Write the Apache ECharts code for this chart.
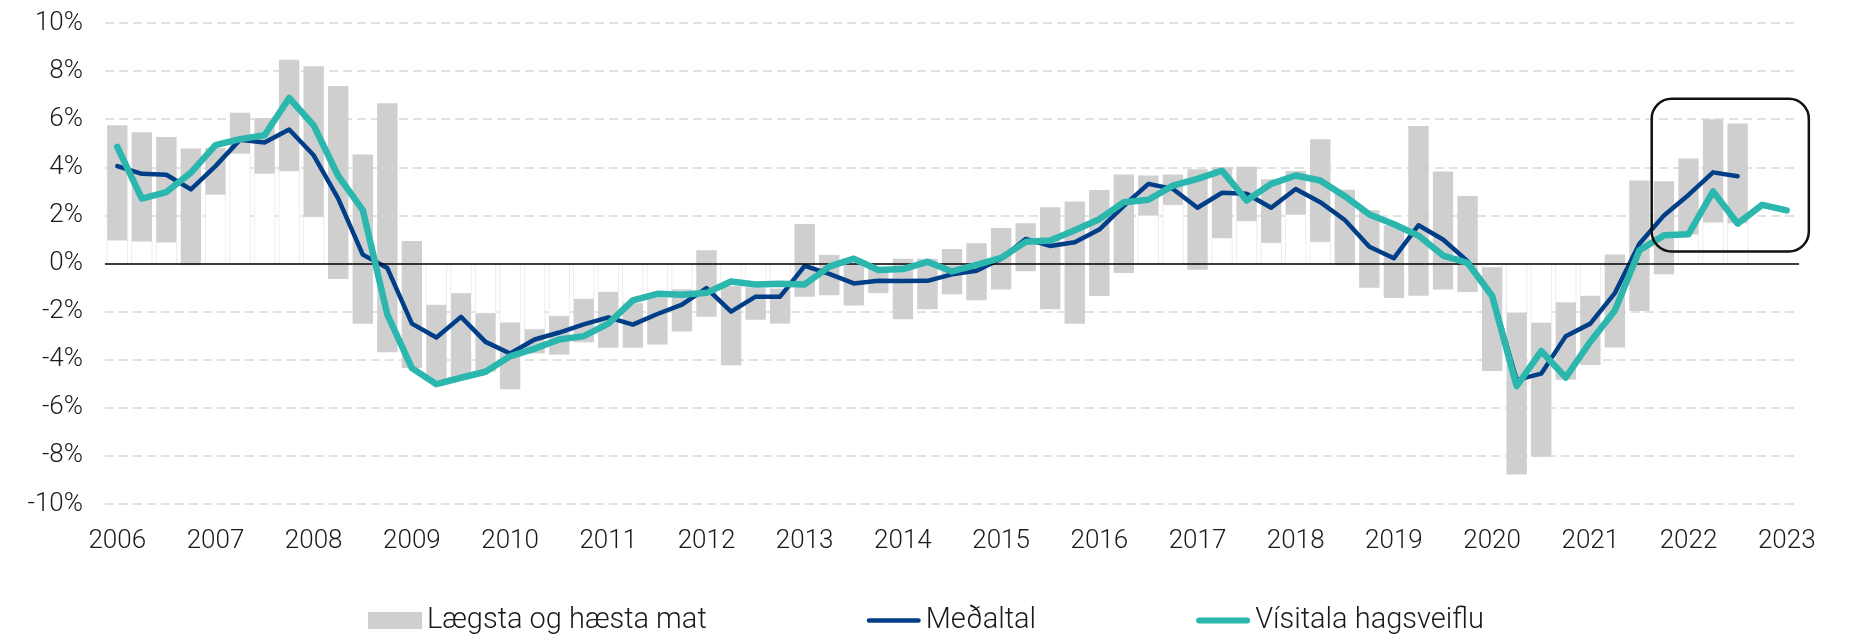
<!DOCTYPE html>
<html>
<head>
<meta charset="utf-8">
<script src="https://cdn.jsdelivr.net/npm/echarts@6/dist/echarts.min.js"></script>
<style>
html,body{margin:0;padding:0;background:#fff;}
#chart{width:1852px;height:637px;}
</style>
</head>
<body>
<div id="chart"></div>
<script>
// Quarters 2006Q1 .. 2023Q1
const years = [2006,2007,2008,2009,2010,2011,2012,2013,2014,2015,2016,2017,2018,2019,2020,2021,2022,2023];
const categories = [];
years.forEach(y => { for (let q = 1; q <= 4; q++) { if (y === 2023 && q > 1) break; categories.push(y + 'Q' + q); } });

// Lægsta og hæsta mat (lowest / highest estimate)
const lowest = [0.97,0.92,0.88,-0.07, 2.87,4.57,3.74,3.85, 1.94,-0.64,-2.51,-3.69,
  -4.35,-4.85,-4.75,-4.5, -5.23,-3.74,-3.79,-3.27, -3.5,-3.5,-3.37,-2.83,
  -2.21,-4.23,-2.34,-2.5, -1.38,-1.32,-1.75,-1.23, -2.32,-1.9,-1.28,-1.53,
  -1.08,-0.32,-1.9,-2.51, -1.35,-0.4,2.0,2.44, -0.26,1.06,1.77,0.86,
  2.04,0.9,-0.07,-1.01, -1.43,-1.34,-1.08,-1.19, -4.47,-8.77,-8.04,-4.83,
  -4.22,-3.49,-1.98,-0.45, 1.22,1.71,1.68,null, null];
const highest = [5.75,5.46,5.26,4.78, 4.8,6.27,6.05,8.47, 8.2,7.38,4.53,6.66,
  0.94,-1.73,-1.24,-2.07, -2.46,-2.74,-2.19,-1.48, -1.19,-1.65,-1.41,-1.08,
  0.55,-0.95,-1.0,-1.05, 1.64,0.36,-0.05,-0.2, 0.2,0.2,0.6,0.84,
  1.48,1.67,2.34,2.58, 3.06,3.7,3.66,3.7, 3.92,4.0,4.02,3.5,
  3.85,5.17,3.07,2.21, 1.59,5.72,3.83,2.81, -0.16,-2.05,-2.47,-1.62,
  -1.35,0.37,3.45,3.42, 4.37,6.0,5.82,null, null];
// Meðaltal (average)
const average = [4.05,3.73,3.69,3.08, 4.05,5.15,5.03,5.57, 4.5,2.7,0.37,-0.19,
  -2.5,-3.08,-2.22,-3.26, -3.74,-3.16,-2.87,-2.53, -2.24,-2.54,-2.1,-1.71,
  -1.02,-2.0,-1.38,-1.38, -0.1,-0.43,-0.83,-0.72, -0.73,-0.72,-0.45,-0.3,
  0.2,1.02,0.73,0.88, 1.41,2.4,3.31,3.1, 2.32,2.94,2.9,2.32,
  3.1,2.55,1.81,0.7, 0.22,1.59,1.0,0.1, -1.31,-4.84,-4.58,-3.02,
  -2.5,-1.23,0.82,2.0, 2.85,3.79,3.63,null, null];
// Vísitala hagsveiflu (business cycle index)
const cycleIndex = [4.85,2.7,2.97,3.78, 4.92,5.17,5.33,6.88, 5.74,3.64,2.22,-2.12,
  -4.35,-5.02,-4.75,-4.5, -3.86,-3.54,-3.16,-3.02, -2.5,-1.53,-1.26,-1.3,
  -1.22,-0.75,-0.87,-0.84, -0.87,-0.13,0.2,-0.27, -0.23,0.07,-0.33,-0.06,
  0.23,0.9,0.96,1.38, 1.84,2.55,2.65,3.24, 3.52,3.86,2.62,3.31,
  3.66,3.45,2.8,2.04, 1.63,1.16,0.33,0.03, -1.35,-5.1,-3.64,-4.74,
  -3.25,-1.95,0.55,1.17, 1.22,3.0,1.66,2.44, 2.21];
// y-axis ticks
const yMin = -10, yMax = 10, yStep = 2;
// highlighted region (category index range, value range)
const boxFromIndex = 62.5, boxToIndex = 68.9, boxTop = 6.85, boxBottom = 0.5;

const names = ['Lægsta og hæsta mat', 'Meðaltal', 'Vísitala hagsveiflu'];
const FONT = 'Roboto';
const GRAY = '#d0cfd0', BLUE = '#003f87', TEAL = '#2bb6ae';

const rangeData = categories.map((c, i) => [i, lowest[i], highest[i]]);

const chart = echarts.init(document.getElementById('chart'), null, {renderer: 'canvas'});

function renderRange(params, api) {
  const lo = api.value(1), hi = api.value(2);
  if (lo == null || hi == null || isNaN(lo) || isNaN(hi)) return null;
  const idx = api.value(0);
  const band = api.size([1, 0])[0];
  const w = band * 0.83;
  const pHi = api.coord([idx, hi]);
  const pLo = api.coord([idx, lo]);
  const children = [];
  let baseFrom = null;
  if (lo > 0) baseFrom = lo; else if (hi < 0) baseFrom = hi;
  if (baseFrom !== null) {
    const p0 = api.coord([idx, 0]);
    const pb = api.coord([idx, baseFrom]);
    children.push({
      type: 'rect',
      shape: {x: p0[0] - w / 2, y: Math.min(p0[1], pb[1]), width: w, height: Math.abs(p0[1] - pb[1])},
      style: {fill: '#ffffff', stroke: '#ececec', lineWidth: 1}
    });
  }
  children.push({
    type: 'rect',
    shape: {x: pHi[0] - w / 2, y: pHi[1], width: w, height: pLo[1] - pHi[1]},
    style: {fill: GRAY}
  });
  return {type: 'group', children};
}

const legendLine = (h) => 'path://M' + (h/2) + ',0 L' + (54 - h/2) + ',0 A' + (h/2) + ',' + (h/2) + ' 0 0 1 ' + (54 - h/2) + ',' + h + ' L' + (h/2) + ',' + h + ' A' + (h/2) + ',' + (h/2) + ' 0 0 1 ' + (h/2) + ',0 Z';

const option = {
  animation: false,
  backgroundColor: '#ffffff',
  textStyle: {fontFamily: FONT},
  grid: {left: 105, right: 53, top: 23, bottom: 133, containLabel: false, outerBoundsMode: 'none'},
  legend: {
    left: 'center', top: 606, padding: 0,
    itemGap: 160, itemWidth: 54, itemHeight: 17,
    textStyle: {fontFamily: FONT, fontSize: 29, fontWeight: 300, color: '#1a1a1a'},
    data: [
      {name: names[0], icon: 'rect', itemStyle: {color: GRAY}},
      {name: names[1], icon: legendLine(4.5), itemStyle: {color: BLUE}},
      {name: names[2], icon: legendLine(6), itemStyle: {color: TEAL}}
    ]
  },
  xAxis: {
    type: 'category',
    data: categories,
    boundaryGap: true,
    axisLine: {show: false},
    axisTick: {show: false},
    splitLine: {show: false},
    axisLabel: {
      interval: 0, margin: 24,
      fontFamily: FONT, fontSize: 26, fontWeight: 300, color: '#1a1a1a',
      formatter: v => v.endsWith('Q1') ? v.slice(0, 4) : ''
    }
  },
  yAxis: {
    type: 'value',
    min: yMin, max: yMax, interval: yStep,
    axisLine: {show: false},
    axisTick: {show: false},
    axisLabel: {
      margin: 22, fontFamily: FONT, fontSize: 26, fontWeight: 300, color: '#1a1a1a',
      formatter: '{value}%'
    },
    splitLine: {lineStyle: {color: '#d9d9d9', width: 1.5, type: [9, 5]}}
  },
  series: [
    {
      name: names[0],
      type: 'custom',
      renderItem: renderRange,
      data: rangeData,
      encode: {x: 0, y: [1, 2]},
      itemStyle: {color: GRAY},
      z: 2
    },
    {
      name: 'zero',
      type: 'line',
      data: [],
      z: 3,
      markLine: {
        silent: true, symbol: 'none', label: {show: false},
        lineStyle: {color: '#000', width: 1.5, type: 'solid'},
        data: [{yAxis: 0}]
      }
    },
    {
      name: names[1],
      type: 'line',
      data: average,
      showSymbol: false, symbol: 'none',
      lineStyle: {color: BLUE, width: 4.5, cap: 'round', join: 'round'},
      itemStyle: {color: BLUE},
      z: 4
    },
    {
      name: names[2],
      type: 'line',
      data: cycleIndex,
      showSymbol: false, symbol: 'none',
      lineStyle: {color: TEAL, width: 6.5, cap: 'round', join: 'round'},
      itemStyle: {color: TEAL},
      z: 5
    }
  ]
};
chart.setOption(option);

// Rounded highlight box, positioned through the chart's own scales
function placeBox() {
  const a = chart.convertToPixel({xAxisIndex: 0, yAxisIndex: 0}, [0, boxTop]);
  const b = chart.convertToPixel({xAxisIndex: 0, yAxisIndex: 0}, [1, boxBottom]);
  const step = b[0] - a[0];
  const x1 = a[0] + boxFromIndex * step;
  const x2 = a[0] + boxToIndex * step;
  chart.setOption({
    graphic: [{
      type: 'rect', z: 10, silent: true,
      shape: {x: x1, y: a[1], width: x2 - x1, height: b[1] - a[1], r: 20},
      style: {fill: 'none', stroke: '#111', lineWidth: 2.5}
    }]
  });
}
placeBox();
</script>
</body>
</html>
